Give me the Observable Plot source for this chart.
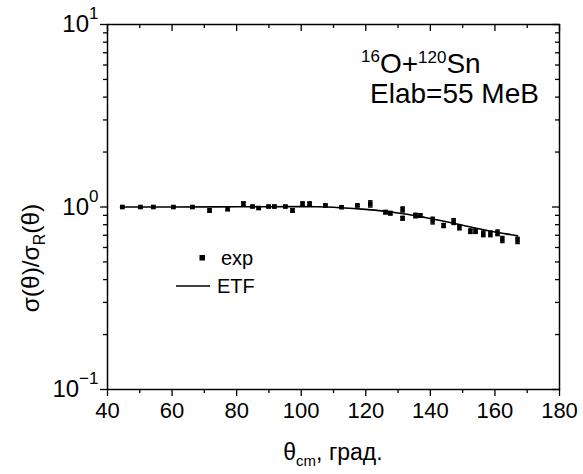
<!DOCTYPE html>
<html><head><meta charset="utf-8">
<script src="https://cdn.jsdelivr.net/npm/d3@7"></script>
<script src="https://cdn.jsdelivr.net/npm/@observablehq/plot@0.6"></script>
<style>
body{margin:0;background:#fff}
svg{font-family:"Liberation Sans",Arial,sans-serif}
</style>
</head><body><div id="chart"></div>
<script>
// experimental points (theta_cm, sigma/sigma_R, absolute error)
const expTheta = [44.6,50.2,54.2,60.4,66.3,71.6,77.2,82.1,84.9,86.8,89.9,91.7,95.1,97.3,100.4,102.6,107.5,112.5,117.4,121.4,126.1,127.6,131.4,131.4,135.4,136.9,140.7,144.1,147.2,149.0,152.4,154.0,156.4,158.6,160.8,162.3,167.0];
const expRatio = [1.0,1.0,1.0,1.0,1.0,0.957,0.978,1.04,1.006,0.987,1.006,1.006,1.006,0.957,1.04,1.04,1.02,0.997,1.02,1.04,0.937,0.925,0.969,0.868,0.898,0.898,0.843,0.792,0.833,0.775,0.737,0.737,0.713,0.713,0.722,0.664,0.656];
const expErr   = [0.01,0.01,0.01,0.01,0.01,0.02,0.025,0.025,0.012,0.015,0.012,0.015,0.012,0.02,0.025,0.025,0.015,0.012,0.015,0.04,0.02,0.02,0.03,0.02,0.025,0.02,0.035,0.02,0.03,0.025,0.02,0.02,0.025,0.025,0.025,0.025,0.025];
// ETF calculation
const etfTheta = [44,60,80,100,105,110,115,120,125,130,135,140,145,150,155,160,165,167];
const etfRatio = [1.0,1.0,1.003,1.005,1.003,0.997,0.985,0.97,0.952,0.928,0.9,0.865,0.83,0.795,0.76,0.73,0.705,0.695];
// ticks
const xTicks = [40,60,80,100,120,140,160,180];
const xMinor = [50,70,90,110,130,150,170];
const yTicks = [0.1,1,10];
const yMinor = [0.2,0.3,0.4,0.5,0.6,0.7,0.8,0.9,2,3,4,5,6,7,8,9];
// texts
const legendLabels = ["exp","ETF"];
const annotLine2 = "Elab=55 MeB";

const expData = expTheta.map((t,i)=>({t, v:expRatio[i], e:expErr[i]}));
const etfData = etfTheta.map((t,i)=>({t, v:etfRatio[i]}));

const capSymbol = {draw(ctx,size){const w=Math.sqrt(size)/2; ctx.moveTo(-w,0); ctx.lineTo(w,0);}};

const W=583,H=474,ML=107,MR=24,MT=24,MB=85;
const plot = Plot.plot({
  width:W, height:H, marginLeft:ML, marginRight:MR, marginTop:MT, marginBottom:MB,
  style:{fontFamily:"Liberation Sans, Arial, sans-serif", background:"white", overflow:"visible"},
  x:{domain:[40,180]},
  y:{type:"log", domain:[0.1,10]},
  marks:[
    Plot.axisX({ticks:xTicks, tickSize:7, tickPadding:6, fontSize:22, tickFormat:d=>String(d), label:null, stroke:"black", strokeWidth:1.3}),
    Plot.axisX({ticks:xMinor, tickSize:4, tickFormat:()=>"", label:null, strokeWidth:1.3}),
    Plot.axisY({ticks:yTicks, tickSize:7, tickPadding:2, fontSize:24, tickFormat:d=>"10^"+Math.round(Math.log10(d)), label:null, strokeWidth:1.3}),
    Plot.axisY({ticks:yMinor, tickSize:4, tickFormat:()=>"", label:null, strokeWidth:1.3}),
    Plot.tickX(xTicks, {x:d=>d, insetBottom:H-MT-MB-7, strokeWidth:1.3}),
    Plot.tickX(xMinor, {x:d=>d, insetBottom:H-MT-MB-4, strokeWidth:1.3}),
    Plot.tickY(yTicks, {y:d=>d, insetLeft:W-ML-MR-7, strokeWidth:1.3}),
    Plot.tickY(yMinor, {y:d=>d, insetLeft:W-ML-MR-4, strokeWidth:1.3}),
    Plot.frame({stroke:"black", strokeWidth:1.5}),
    Plot.line(etfData, {x:"t", y:"v", stroke:"black", strokeWidth:1.6, curve:"catmull-rom"}),
    Plot.ruleX(expData, {x:"t", y1:d=>d.v-d.e, y2:d=>d.v+d.e, stroke:"black", strokeWidth:2}),
    Plot.dot(expData, {x:"t", y:d=>d.v-d.e, symbol:capSymbol, r:2.6, stroke:"black", strokeWidth:1.5}),
    Plot.dot(expData, {x:"t", y:d=>d.v+d.e, symbol:capSymbol, r:2.6, stroke:"black", strokeWidth:1.5}),
    Plot.dot(expData, {x:"t", y:"v", symbol:"square", r:2.6, fill:"black", stroke:"none"})
  ]
});
document.getElementById("chart").appendChild(plot);
const svg = d3.select(plot);
svg.selectAll("text").each(function(){
  const s = this.textContent;
  if (s.startsWith("10^")) {
    const e = s.slice(3).replace("-","\u2212");
    const t = d3.select(this);
    t.text("");
    t.append("tspan").text("10");
    t.append("tspan").attr("font-size",17).attr("dy","-0.75em").text(e);
  }
});
svg.selectAll("[aria-label='x-axis tick label'] text").attr("fill","black");
svg.selectAll("[aria-label='y-axis tick label'] text").attr("fill","black");

const g = svg.append("g").attr("fill","black").attr("text-anchor","start").attr("font-family","Liberation Sans, Arial, sans-serif");
// y title
const yt = g.append("text").attr("transform","translate(39,258) rotate(-90)").attr("text-anchor","middle").attr("font-size",24.5);
yt.append("tspan").text("\u03c3(\u03b8)/\u03c3");
yt.append("tspan").attr("font-size",16).attr("dy","0.35em").text("R");
yt.append("tspan").attr("dy","-0.23em").text("(\u03b8)");
// x title
const xt = g.append("text").attr("x",333).attr("y",460).attr("text-anchor","middle").attr("font-size",23);
xt.append("tspan").text("\u03b8");
xt.append("tspan").attr("font-size",15).attr("dy","0.4em").text("cm");
xt.append("tspan").attr("dy","-0.27em").text(", \u0433\u0440\u0430\u0434.");
// annotation
const a1 = g.append("text").attr("x",361).attr("y",73).attr("font-size",28);
a1.append("tspan").attr("font-size",17).attr("dy","-0.62em").text("16");
a1.append("tspan").attr("dy","0.38em").text("O+");
a1.append("tspan").attr("font-size",17).attr("dy","-0.62em").text("120");
a1.append("tspan").attr("dy","0.38em").text("Sn");
g.append("text").attr("x",370).attr("y",103).attr("font-size",28).text(annotLine2);
// legend
g.append("rect").attr("x",199.5).attr("y",255).attr("width",5.5).attr("height",5.5);
g.append("text").attr("x",221).attr("y",265).attr("font-size",20).text(legendLabels[0]);
g.append("line").attr("x1",176).attr("x2",210).attr("y1",286).attr("y2",286).attr("stroke","black").attr("stroke-width",1.6);
g.append("text").attr("x",217).attr("y",293).attr("font-size",20).text(legendLabels[1]);
</script>
</body></html>
